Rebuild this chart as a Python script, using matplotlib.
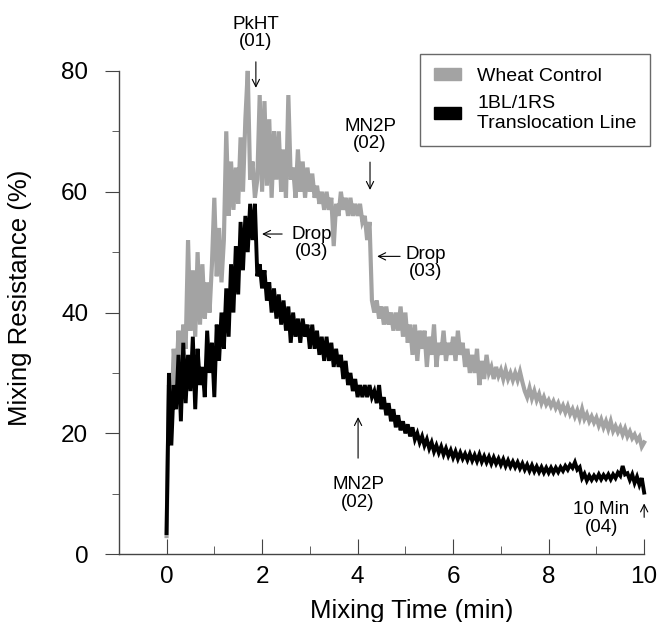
"""Mixograph curves: wheat control vs 1BL/1RS translocation line."""

import matplotlib.pyplot as plt
import numpy as np
from matplotlib.patches import Patch
from matplotlib.ticker import MultipleLocator

# sample times, 0.05 min apart
time_min = np.round(np.arange(201) * 0.05, 2)

control = [
    3, 28, 22, 34, 28, 37, 31, 38, 34, 52, 37, 47, 36, 50, 38, 48, 39, 45, 40, 48,
    59, 46, 54, 45, 52, 70, 56, 65, 57, 64, 58, 69, 60, 72, 80, 62, 65, 59, 62, 76,
    60, 75, 61, 72, 59, 70, 62, 70, 60, 67, 59, 76, 62, 64, 59, 67, 60, 65, 59, 64,
    60, 63, 59, 61, 58, 60, 57, 60, 57, 59, 51, 58, 56, 60, 57, 59, 56, 59, 56, 58,
    56, 58, 55, 56, 52, 55, 42, 40, 42, 39, 41, 38, 41, 38, 40, 37, 40, 37, 41, 36,
    40, 35, 38, 33, 38, 32, 37, 34, 37, 31, 36, 33, 38, 31, 35, 33, 37, 32, 35, 33,
    36, 32, 37, 33, 35, 31, 34, 30, 33, 30, 34, 28, 32, 29, 33, 30, 31, 29, 31, 29.5,
    30.5, 29, 30.5, 29, 30, 28.8, 30, 28.8, 30.2, 28.5, 27, 26, 27.5, 25.8, 27, 25.5,
    26.5, 25, 26, 24.8,
    25.5, 24.5, 25.3, 24.2, 25, 23.8, 24.6, 23.5, 24.5, 23.2, 24, 22.8, 23.8, 22.5,
    24, 22.4, 23.2, 22, 22.8, 21.8,
    22.6, 21.3, 22.3, 21, 22, 20.7, 22, 20.4, 21.2, 20.2, 21, 19.8, 20.8, 19.5,
    20.3, 19.2, 19.8, 18.8, 19.4, 17.8, 18.5,
]

translocation = [
    3.5, 30, 18, 28, 24, 33, 22, 35, 25, 33, 27, 36, 24, 34, 28, 31, 26, 37, 30, 35,
    26, 38, 32, 40, 34, 44, 36, 48, 40, 51, 43, 55, 47, 56, 50, 58, 52, 58, 46, 48,
    44, 47, 42, 45, 40, 44, 39, 43, 38, 42, 37, 41, 35, 40, 36, 39, 35, 39, 36, 38,
    34, 38, 34, 37, 33, 36, 32, 36, 32, 35, 31, 34, 31, 33, 29, 32, 28, 30, 27, 29,
    26, 28, 26, 28, 26, 28, 26, 27, 25, 28, 24, 26, 23, 25, 22, 24, 21, 23, 20.5, 22,
    20, 21.5, 19.5, 21, 19, 20, 18.5, 19.5, 18, 19, 17.5, 18.5, 17, 18, 16.8, 17.8,
    16.5, 17.5, 16.3, 17.2,
    16, 17, 15.8, 16.8, 15.8, 16.6, 15.6, 16.6, 15.5, 16.4, 15.4, 16.5, 15.3, 16.2,
    15.2, 16.1, 15, 16, 15, 15.8,
    14.8, 15.7, 14.6, 15.5, 14.5, 15.3, 14.4, 15.2, 14.2, 15, 14, 14.8, 13.8, 14.7,
    13.7, 14.5, 13.6, 14.4, 13.5, 14.3,
    13.5, 14.3, 13.5, 14.3, 13.6, 14.4, 13.8, 14.6, 14, 14.8, 14.3, 15.2, 14, 14.4,
    12.6, 13.3, 12.2, 13, 12.3, 13,
    12.4, 13.2, 12.4, 13.1, 12.5, 13.2, 12.4, 13.2, 12.6, 13.5, 13.0, 14.6, 13.2,
    13.4, 12.3, 13.2, 11.8, 12.8, 11.5, 12.6, 10.2,
]

# label, arrow tip, arrow tail, text centre
notes = [
    ("PkHT\n(01)", (1.87, 77.2), (1.87, 81.5), (1.87, 86.3)),
    ("MN2P\n(02)", (4.26, 60.3), (4.26, 64.9), (4.26, 69.4)),
    ("Drop\n(03)", (4.41, 49.3), (4.89, 49.3), (5.42, 48.2)),
    ("Drop\n(03)", (2.00, 53.0), (2.42, 53.0), (3.04, 51.5)),
    ("MN2P\n(02)", (4.01, 22.7), (4.01, 15.9), (4.01, 10.0)),
    ("10 Min\n(04)", (10.0, 8.4), (10.0, 6.1), (9.10, 5.9)),
]

GREY = "#a3a3a3"
AXIS = "#444444"

plt.rcParams["font.family"] = ["Liberation Sans", "DejaVu Sans"]

fig = plt.figure(figsize=(6.6, 6.22), dpi=100)
ax = fig.add_axes([0.180, 0.109, 0.796, 0.777])

ax.plot(time_min, control, color=GREY, linewidth=3.0, solid_joinstyle="miter",
        clip_on=False, zorder=2)
ax.plot(time_min, translocation, color="black", linewidth=2.8,
        solid_joinstyle="miter", clip_on=False, zorder=3)

arrow = dict(arrowstyle="->", color="black", linewidth=0.8, mutation_scale=13,
             shrinkA=0, shrinkB=0)
for label, tip, tail, pos in notes:
    ax.annotate("", xy=tip, xytext=tail, arrowprops=arrow, annotation_clip=False)
    ax.text(pos[0], pos[1], label, ha="center", va="center", fontsize=13.5,
            linespacing=1.05, clip_on=False)

ax.set_xlim(-1, 10)
ax.set_ylim(0, 80)
ax.xaxis.set_major_locator(MultipleLocator(2))
ax.xaxis.set_minor_locator(MultipleLocator(1))
ax.yaxis.set_major_locator(MultipleLocator(20))
ax.yaxis.set_minor_locator(MultipleLocator(10))
for side in ("top", "right"):
    ax.spines[side].set_visible(False)
for side in ("left", "bottom"):
    ax.spines[side].set_color(AXIS)
    ax.spines[side].set_linewidth(1.0)
ax.tick_params(axis="x", which="major", direction="in", length=11,
               color=AXIS, labelsize=17.5, pad=-0.5)
ax.tick_params(axis="x", which="minor", direction="in", length=6, color=AXIS)
ax.tick_params(axis="y", which="major", direction="out", length=10,
               color=AXIS, labelsize=17.5, pad=12)
ax.tick_params(axis="y", which="minor", direction="out", length=5, color=AXIS)
# inward x ticks: push the labels clear of the axis line
for lbl in ax.get_xticklabels():
    lbl.set_y(-0.025)

ax.set_ylabel("Mixing Resistance (%)", fontsize=18.5)
ax.yaxis.set_label_coords(-0.165, 0.53)
fig.text(0.624, 0.018, "Mixing Time (min)", fontsize=18.5, ha="center",
         va="center")

handles = [Patch(facecolor=GREY, edgecolor=GREY),
           Patch(facecolor="black", edgecolor="black")]
leg = fig.legend(handles, ["Wheat Control", "1BL/1RS\nTranslocation Line"],
                 loc="upper left", bbox_to_anchor=(420 / 660, 1 - 54 / 622),
                 borderaxespad=0, fontsize=14, frameon=True, fancybox=False,
                 handlelength=1.4, handleheight=0.55, borderpad=0.7,
                 labelspacing=0.55, handletextpad=0.85)
leg.get_frame().set_edgecolor(AXIS)
leg.get_frame().set_linewidth(1.0)

fig.savefig("out.png", dpi=100)
